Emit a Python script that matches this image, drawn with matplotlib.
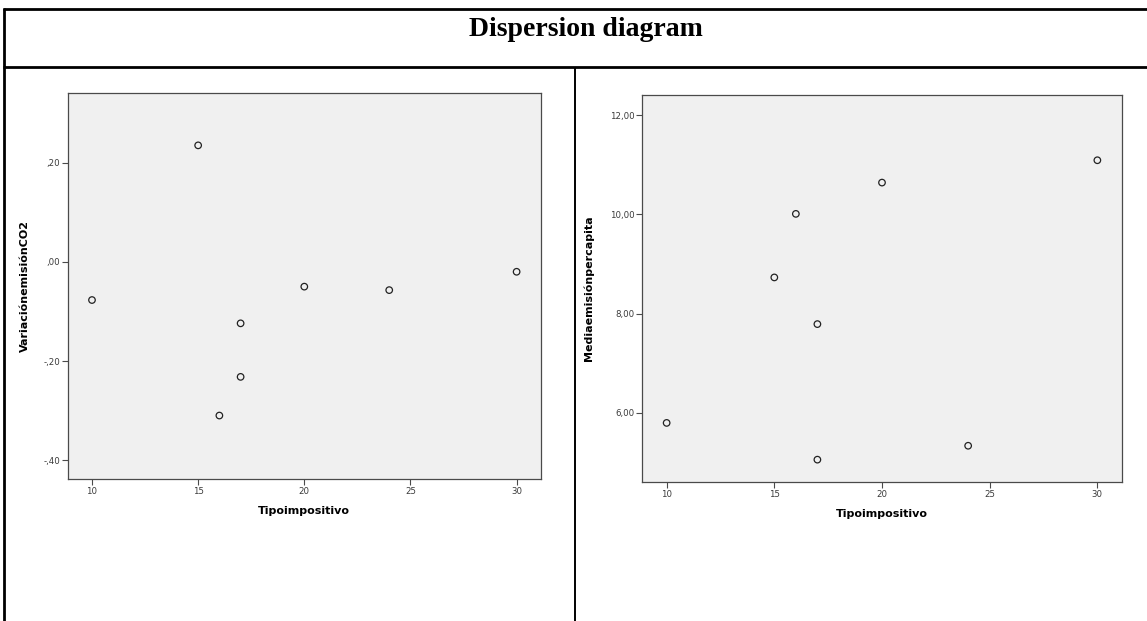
import matplotlib
matplotlib.use("Agg")
import matplotlib.pyplot as plt
from matplotlib.lines import Line2D

W, H = 1147, 621

title = "Dispersion diagram"
x_label = "Tipoimpositivo"
left_ylabel = "VariaciónemisiónCO2"
right_ylabel = "Mediaemisiónpercapita"

# Left panel data
tipo_left = [15, 10, 20, 24, 30, 17, 17, 16]
variacion_co2 = [0.235, -0.077, -0.050, -0.057, -0.020, -0.124, -0.232, -0.310]
left_yticks = [-0.40, -0.20, 0.00, 0.20]
left_yticklabels = ["-,40", "-,20", ",00", ",20"]

# Right panel data
tipo_right = [10, 15, 16, 20, 30, 17, 17, 24]
media_percapita = [5.80, 8.73, 10.01, 10.64, 11.09, 7.79, 5.06, 5.34]
right_yticks = [6, 8, 10, 12]
right_yticklabels = ["6,00", "8,00", "10,00", "12,00"]

xticks = [10, 15, 20, 25, 30]
xticklabels = ["10", "15", "20", "25", "30"]

fig = plt.figure(figsize=(W / 100, H / 100), dpi=100)
fig.patch.set_facecolor("white")


def px_axes(l, r, t, b):
    return fig.add_axes([l / W, 1 - b / H, (r - l) / W, (b - t) / H])


def fline(x0, y0, x1, y1, lw):
    fig.add_artist(Line2D([x0 / W, x1 / W], [1 - y0 / H, 1 - y1 / H],
                          transform=fig.transFigure, color="black", lw=lw,
                          solid_capstyle="butt"))


# table borders
fline(3, 8.5, W, 8.5, 2.0)
fline(3.5, 8, 3.5, H, 2.0)
fline(3, 67, W, 67, 2.0)
fline(575, 67, 575, H, 1.4)

fig.text(586 / W, 1 - 30 / H, title, ha="center", va="center",
         fontsize=20, fontweight="bold", family="Liberation Serif")

spine_col = "#4a4a4a"
tick_col = "#3a3a3a"


def style(ax, ylabel, yticks, yticklabels, ylim, ylab_x):
    ax.set_facecolor("#f0f0f0")
    for s in ax.spines.values():
        s.set_color(spine_col)
        s.set_linewidth(0.9)
    ax.set_xlim(8.87, 31.13)
    ax.set_ylim(*ylim)
    ax.set_xticks(xticks)
    ax.set_xticklabels(xticklabels)
    ax.set_yticks(yticks)
    ax.set_yticklabels(yticklabels)
    ax.tick_params(axis="both", direction="out", length=4.3, width=0.8,
                   color=spine_col, labelsize=6.2, labelcolor=tick_col,
                   pad=1.5, top=False, right=False)
    ax.set_xlabel(x_label, fontsize=8, fontweight="bold", labelpad=7)
    ax.set_ylabel(ylabel, fontsize=8, fontweight="bold")
    ax.yaxis.set_label_coords(ylab_x, 0.5)


axL = px_axes(68, 540.6, 93.3, 479)
axL.scatter(tipo_left, variacion_co2, s=22, facecolors="none",
            edgecolors="#222222", linewidths=0.9, zorder=3)
style(axL, left_ylabel, left_yticks, left_yticklabels, (-0.438, 0.34),
      (29.5 - 68) / (540.6 - 68))

axR = px_axes(642.3, 1121.7, 94.7, 482)
axR.scatter(tipo_right, media_percapita, s=22, facecolors="none",
            edgecolors="#222222", linewidths=0.9, zorder=3)
style(axR, right_ylabel, right_yticks, right_yticklabels, (4.61, 12.41),
      (594 - 642.3) / (1121.7 - 642.3))

fig.savefig("out.png", dpi=100, facecolor="white")
